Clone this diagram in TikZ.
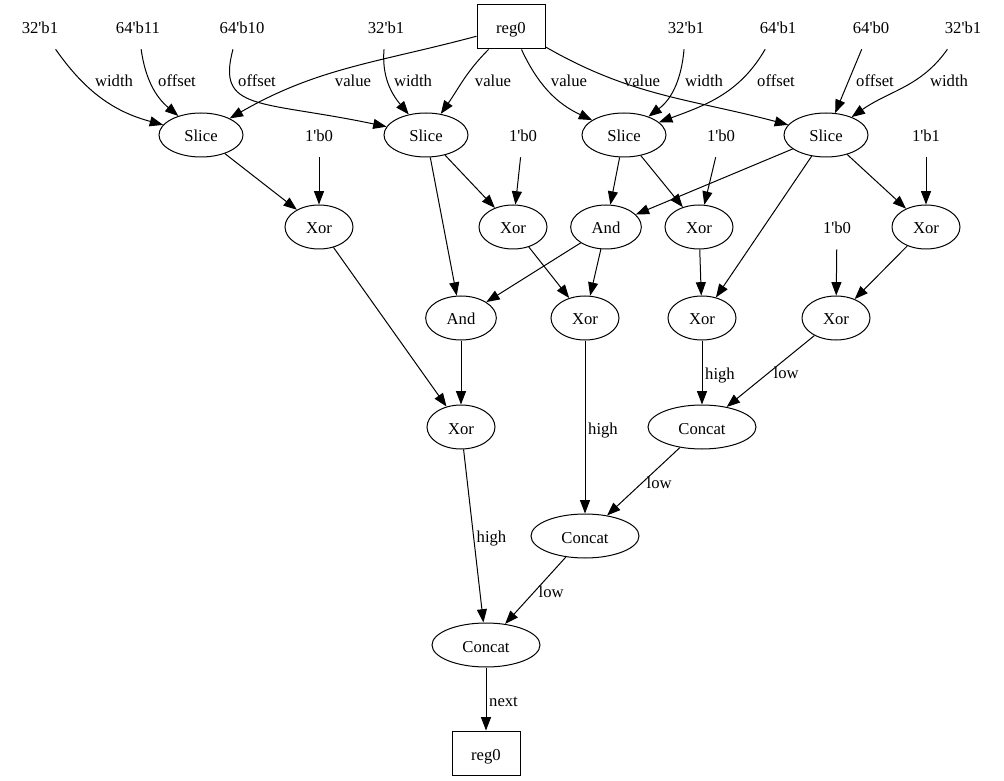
\documentclass[tikz,border=0pt]{standalone}
\usepackage{fontspec}
\setmainfont{Liberation Serif}
\usetikzlibrary{arrows.meta,shapes.geometric}
\newcommand{\tq}{\textquotesingle}

\begin{document}
\begin{tikzpicture}
[
    x=0.75pt, y=0.75pt,
    every node/.style={font=\fontsize{12.5}{15}\selectfont, text height=10.6pt, text depth=0.1pt},
    op/.style={draw, ellipse, line width=0.75pt, inner sep=0pt, minimum height=33pt},
    sliceop/.style={op, minimum width=63pt},
    xorop/.style={op, minimum width=51pt},
    andop/.style={op, minimum width=53pt},
    catop/.style={op, minimum width=81pt},
    reg/.style={draw, rectangle, line width=0.75pt, minimum width=51pt, minimum height=33pt},
    cst/.style={minimum width=40pt, minimum height=33pt, inner sep=0pt},
    lbl/.style={inner sep=2pt},
    wire/.style={draw, line width=0.75pt, -{Triangle[length=10pt,width=7.5pt]}}
]
    \useasboundingbox (0,0) rectangle (1004,-781);

    % registers and constants
    \node [reg] (reg0) at (511,-27) {reg0};
    \node [cst] (w1) at (40,-27) {32\tq b1};
    \node [cst] (o1) at (138,-27) {64\tq b11};
    \node [cst] (o2) at (242,-27) {64\tq b10};
    \node [cst] (w2) at (386,-27) {32\tq b1};
    \node [cst] (w3) at (686,-27) {32\tq b1};
    \node [cst] (o3) at (778,-27) {64\tq b1};
    \node [cst] (o4) at (871,-27) {64\tq b0};
    \node [cst] (w4) at (963,-27) {32\tq b1};

    % slices
    \node [sliceop] (s1) at (201,-135) {Slice};
    \node [sliceop] (s2) at (426,-135) {Slice};
    \node [sliceop] (s3) at (624,-135) {Slice};
    \node [sliceop] (s4) at (826,-135) {Slice};
    \node [cst] (b1) at (319,-135) {1\tq b0};
    \node [cst] (b2) at (523,-135) {1\tq b0};
    \node [cst] (b3) at (721,-135) {1\tq b0};
    \node [cst] (b4) at (926,-135) {1\tq b1};

    % logic
    \node [xorop] (x1) at (319,-227) {Xor};
    \node [xorop] (x2) at (513,-227) {Xor};
    \node [andop] (a1) at (606,-227) {And};
    \node [xorop] (x3) at (699,-227) {Xor};
    \node [cst] (b5) at (837,-227) {1\tq b0};
    \node [xorop] (x4) at (926,-227) {Xor};
    \node [andop] (a2) at (461,-318) {And};
    \node [xorop] (x5) at (585,-318) {Xor};
    \node [xorop] (x6) at (702,-318) {Xor};
    \node [xorop] (x7) at (836,-318) {Xor};
    \node [xorop] (x8) at (461,-427) {Xor};

    % concatenation
    \node [catop] (cc1) at (702,-427) {Concat};
    \node [catop] (cc2) at (585,-536) {Concat};
    \node [catop] (cc3) at (486,-645) {Concat};
    \node [reg] (reg1) at (486,-753) {reg0};

    % slice inputs
    \draw [wire] (w1) to[out=-55, in=165] (s1) node [lbl] at (114,-80) {width};
    \draw [wire] (o1) to[out=-82, in=140] (s1) node [lbl] at (177,-80) {offset};
    \draw [wire] (o2.-112) .. controls (216,-112) and (260,-100) .. (s2) node [lbl] at (257,-80) {offset};
    \draw [wire] (reg0) to[out=195, in=30] (s1) node [lbl] at (353,-80) {value};
    \draw [wire] (w2) to[out=-95, in=130] (s2) node [lbl] at (413,-80) {width};
    \draw [wire] (reg0) to[out=-135, in=55] (s2) node [lbl] at (493,-80) {value};
    \draw [wire] (reg0) to[out=-65, in=155] (s3) node [lbl] at (569,-80) {value};
    \draw [wire] (reg0) to[out=-30, in=165] (s4) node [lbl] at (642,-80) {value};
    \draw [wire] (w3) to[out=-95, in=37] (s3) node [lbl] at (704,-80) {width};
    \draw [wire] (o3) to[out=-120, in=20] (s3) node [lbl] at (776,-80) {offset};
    \draw [wire] (o4) -- (s4) node [lbl] at (875,-80) {offset};
    \draw [wire] (w4) to[out=-125, in=35] (s4) node [lbl] at (949,-80) {width};

    % operator inputs
    \draw [wire] (s1) -- (x1);
    \draw [wire] (b1) -- (x1);
    \draw [wire] (s2) -- (x2);
    \draw [wire] (b2) -- (x2);
    \draw [wire] (s2) -- (a2);
    \draw [wire] (s3) -- (a1);
    \draw [wire] (s3) -- (x3);
    \draw [wire] (b3) -- (x3);
    \draw [wire] (s4) -- (a1);
    \draw [wire] (s4) -- (x6);
    \draw [wire] (s4) -- (x4);
    \draw [wire] (b4) -- (x4);
    \draw [wire] (a1) -- (a2);
    \draw [wire] (a1) -- (x5);
    \draw [wire] (x2) -- (x5);
    \draw [wire] (x3) -- (x6);
    \draw [wire] (b5) -- (x7);
    \draw [wire] (x4) -- (x7);
    \draw [wire] (x1) -- (x8);
    \draw [wire] (a2) -- (x8);

    % concat inputs
    \draw [wire] (x6) -- node [lbl, right] {high} (cc1);
    \draw [wire] (x7) -- node [lbl, right] {low} (cc1);
    \draw [wire] (x5) -- node [lbl, right] {high} (cc2);
    \draw [wire] (cc1) -- node [lbl, right] {low} (cc2);
    \draw [wire] (x8) -- node [lbl, right] {high} (cc3);
    \draw [wire] (cc2) -- node [lbl, right] {low} (cc3);
    \draw [wire] (cc3) -- node [lbl, right] {next} (reg1);
\end{tikzpicture}
\end{document}
